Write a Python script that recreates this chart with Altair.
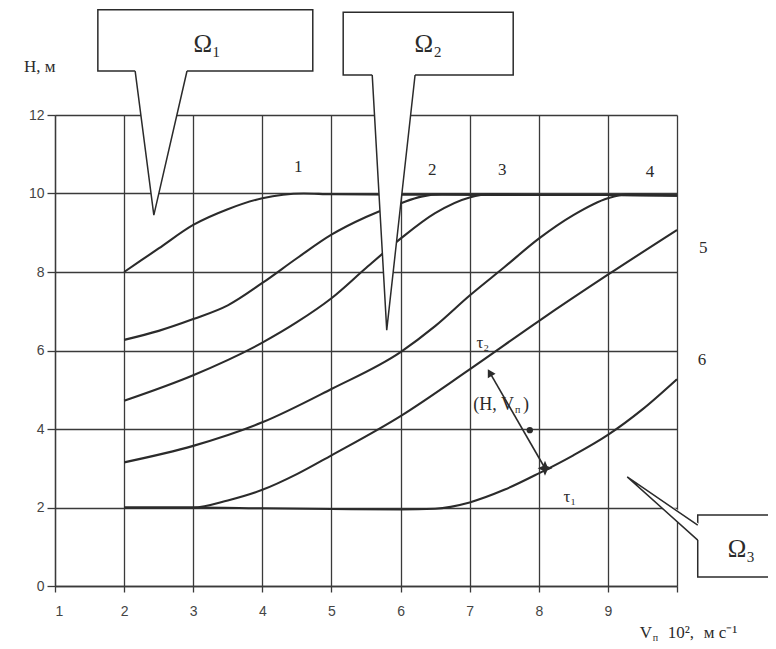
import altair as alt
import pandas as pd

# ---- curve data (V in 10^2 m/s, H in m) ----
V1 = [2, 2.5, 3, 3.5, 4, 4.3, 4.6, 5, 6, 7, 8, 9, 10]
H1 = [8.0, 8.6, 9.2, 9.6, 9.88, 9.97, 10.0, 9.98, 9.97, 9.97, 9.96, 9.96, 9.95]
V2 = [2, 2.5, 3, 3.5, 4, 4.5, 5, 5.5, 6, 6.3, 6.6, 7, 8, 9, 10]
H2 = [6.27, 6.5, 6.8, 7.15, 7.72, 8.35, 8.95, 9.4, 9.75, 9.92, 9.98, 9.97, 9.96, 9.96, 9.95]
V3 = [2, 3, 4, 4.5, 5, 5.5, 6, 6.5, 7, 7.3, 8, 9, 10]
H3 = [4.72, 5.37, 6.2, 6.72, 7.33, 8.1, 8.85, 9.5, 9.9, 9.98, 9.96, 9.96, 9.95]
V4 = [2, 3, 4, 5, 6, 6.5, 7, 7.5, 8, 8.5, 9, 9.3, 10]
H4 = [3.15, 3.57, 4.17, 5.02, 5.96, 6.62, 7.4, 8.12, 8.85, 9.45, 9.88, 9.98, 9.95]
V5 = [2, 3, 3.5, 4, 4.5, 5, 6, 7, 8, 9, 10]
H5 = [2.0, 2.0, 2.18, 2.45, 2.85, 3.33, 4.33, 5.52, 6.75, 7.93, 9.07]
V6 = [2, 3, 4, 5, 6, 6.5, 7, 7.5, 8, 8.5, 9, 9.5, 10]
H6 = [2.0, 2.0, 1.98, 1.96, 1.95, 1.97, 2.13, 2.45, 2.87, 3.33, 3.85, 4.5, 5.27]

X_TICKS = [1, 2, 3, 4, 5, 6, 7, 8, 9, 10]
Y_TICKS = [0, 2, 4, 6, 8, 10, 12]

# curve labels
CURVE_LABELS = ["1", "2", "3", "4", "5", "6"]
CURVE_LABEL_V = [4.52, 6.46, 7.47, 9.61, 10.38, 10.36]
CURVE_LABEL_H = [10.68, 10.6, 10.6, 10.55, 8.6, 5.76]

# callouts
OMEGA_TEXT = ["Ω₁", "Ω₂", "Ω₃"]
OMEGA_TEXT_V = [3.2, 6.4, 10.93]
OMEGA_TEXT_H = [13.8, 13.8, 0.95]
BOX_V = [1.62, 5.17, 10.30]
BOX_V2 = [4.73, 7.63, 11.9]
BOX_H = [13.12, 13.02, 0.23]
BOX_H2 = [14.68, 14.62, 1.81]
# downward pointers for Ω1, Ω2: base-left, tip, base-right
PTR1_V = [2.16, 2.43, 2.91]
PTR1_H = [13.12, 9.45, 13.12]
PTR2_V = [5.59, 5.80, 6.21]
PTR2_H = [13.02, 6.52, 13.02]
# sideways pointer for Ω3: base-top, tip, base-bottom
PTR3_V = [10.30, 9.28, 10.30]
PTR3_H = [1.55, 2.78, 1.17]

# state point and arrow
STAR_V, STAR_H = 8.09, 3.0
HEAD_V, HEAD_H = 7.30, 5.41
DOT_V, DOT_H = 7.87, 3.97
TAU_TEXT = ["τ₂", "τ₁"]
TAU_V = [7.19, 8.45]
TAU_H = [6.19, 2.27]

INK = "#2b2b2b"
GRID = "#3a3a3a"
SERIF = "Liberation Serif"
SANS = "Liberation Sans"

# ---- tables ----
rows = []
for cid, (vs, hs) in enumerate([(V1, H1), (V2, H2), (V3, H3), (V4, H4), (V5, H5), (V6, H6)], start=1):
    for i, (v, h) in enumerate(zip(vs, hs)):
        rows.append({"curve": cid, "i": i, "V": v, "H": h})
curves_df = pd.DataFrame(rows)

XS = alt.Scale(domain=[1, 10], nice=False, zero=False)
YS = alt.Scale(domain=[0, 12], nice=False, zero=False)
XAX = alt.Axis(values=X_TICKS, labelExpr="datum.value == 10 ? '' : datum.label", title=None,
               grid=True, gridColor=GRID, gridWidth=1.3, gridOpacity=1,
               tickSize=6, tickColor=GRID, tickWidth=1.3, domainColor=GRID, domainWidth=1.3,
               labelFont=SANS, labelFontSize=14, labelColor="#444", labelPadding=12)
YAX = alt.Axis(values=Y_TICKS, title=None, grid=True, gridColor=GRID, gridWidth=1.3, gridOpacity=1,
               tickSize=8, tickColor=GRID, tickWidth=1.3, domainColor=GRID, domainWidth=1.3,
               labelFont=SANS, labelFontSize=14, labelColor="#444", labelPadding=3)


def X(f="V", **kw):
    return alt.X(f"{f}:Q", scale=XS, axis=XAX, **kw)


def Y(f="H", **kw):
    return alt.Y(f"{f}:Q", scale=YS, axis=YAX, **kw)


curves = alt.Chart(curves_df).mark_line(color=INK, strokeWidth=2.1, interpolate="monotone").encode(
    x=X(), y=Y(), detail="curve:N", order="i:Q")

boxes_df = pd.DataFrame({"V": BOX_V, "V2": BOX_V2, "H": BOX_H, "H2": BOX_H2})
boxes = alt.Chart(boxes_df).mark_rect(fill="white", stroke=INK, strokeWidth=1.5).encode(
    x=X(), x2="V2:Q", y=Y(), y2="H2:Q")


def down_fill(vs, hs):
    df = pd.DataFrame({"V": vs, "H": hs, "Htop": [hs[0] + 0.1] * len(vs)})
    return alt.Chart(df).mark_area(fill="white", fillOpacity=1, interpolate="linear").encode(
        x=X(), y=Y(stack=None), y2="Htop:Q")


ptr1_fill = down_fill(PTR1_V, PTR1_H)
ptr2_fill = down_fill(PTR2_V, PTR2_H)

# white fill of the sideways pointer of Ω3
v_mid = PTR3_V[1] + (PTR3_V[2] - PTR3_V[1]) * (PTR3_H[1] - PTR3_H[0]) / (PTR3_H[1] - PTR3_H[2])
p3 = pd.DataFrame({
    "H": [PTR3_H[2], PTR3_H[0], PTR3_H[1]],
    "V": [PTR3_V[2], v_mid, PTR3_V[1]],
    "V2": [PTR3_V[0] + 0.05, PTR3_V[0] + 0.05, PTR3_V[1]],
})
ptr3_fill = alt.Chart(p3).mark_area(fill="white", fillOpacity=1, orient="horizontal", interpolate="linear").encode(
    y=Y(), x=X(stack=None), x2="V2:Q")

edge_rows = []
for pid, (vs, hs) in enumerate([(PTR1_V, PTR1_H), (PTR2_V, PTR2_H), (PTR3_V, PTR3_H)]):
    for i, (v, h) in enumerate(zip(vs, hs)):
        edge_rows.append({"p": pid, "i": i, "V": v, "H": h})
edges = alt.Chart(pd.DataFrame(edge_rows)).mark_line(color=INK, strokeWidth=1.5).encode(
    x=X(), y=Y(), detail="p:N", order="i:Q")

omega = alt.Chart(pd.DataFrame({"t": OMEGA_TEXT, "V": OMEGA_TEXT_V, "H": OMEGA_TEXT_H})).mark_text(
    font=SERIF, fontSize=25, color=INK).encode(x=X(), y=Y(), text="t:N")

labels = alt.Chart(pd.DataFrame({"t": CURVE_LABELS, "V": CURVE_LABEL_V, "H": CURVE_LABEL_H})).mark_text(
    font=SERIF, fontSize=17, color=INK).encode(x=X(), y=Y(), text="t:N")

taus = alt.Chart(pd.DataFrame({"t": TAU_TEXT, "V": TAU_V, "H": TAU_H})).mark_text(
    font=SERIF, fontSize=17, color=INK).encode(x=X(), y=Y(), text="t:N")

arrow_df = pd.DataFrame({"i": [0, 1], "V": [STAR_V, HEAD_V], "H": [STAR_H, HEAD_H]})
arrow = alt.Chart(arrow_df).mark_line(color=INK, strokeWidth=1.6).encode(x=X(), y=Y(), order="i:Q")
head = alt.Chart(pd.DataFrame({"V": [HEAD_V], "H": [HEAD_H]})).mark_point(
    shape="triangle", filled=True, size=80, angle=330, color=INK, opacity=1).encode(x=X(), y=Y())
STAR_PATH = "M0,-1L0.3,-0.3L1,0L0.3,0.3L0,1L-0.3,0.3L-1,0L-0.3,-0.3Z"
star = alt.Chart(pd.DataFrame({"V": [STAR_V], "H": [STAR_H]})).mark_point(
    shape=STAR_PATH, filled=True, size=220, color=INK, opacity=1).encode(x=X(), y=Y())
dot = alt.Chart(pd.DataFrame({"V": [DOT_V], "H": [DOT_H]})).mark_point(
    shape="circle", filled=True, size=40, color=INK, opacity=1).encode(x=X(), y=Y())

# "(H, Vп)" label
pt_df = pd.DataFrame({"V": [7.64], "H": [4.61]})
pt_main = alt.Chart(pt_df).mark_text(font=SERIF, fontSize=18, color=INK, align="right").encode(
    x=X(), y=Y(), text=alt.value("(H, V"))
pt_sub = alt.Chart(pt_df).mark_text(font=SERIF, fontSize=10, color=INK, align="left", dx=1, dy=5).encode(
    x=X(), y=Y(), text=alt.value("п"))
pt_close = alt.Chart(pt_df).mark_text(font=SERIF, fontSize=18, color=INK, align="left", dx=9).encode(
    x=X(), y=Y(), text=alt.value(")"))

# axis titles
ytitle = alt.Chart(pd.DataFrame({"V": [0.78], "H": [13.22]})).mark_text(
    font=SERIF, fontSize=17, color=INK).encode(x=X(), y=Y(), text=alt.value("H, м"))
xt_df = pd.DataFrame({"V": [9.46], "H": [-1.2]})
xt_v = alt.Chart(xt_df).mark_text(font=SERIF, fontSize=17, color=INK, align="left").encode(
    x=X(), y=Y(), text=alt.value("V"))
xt_sub = alt.Chart(xt_df).mark_text(font=SERIF, fontSize=10, color=INK, align="left", dx=13, dy=5).encode(
    x=X(), y=Y(), text=alt.value("п"))
xt_10 = alt.Chart(xt_df).mark_text(font=SERIF, fontSize=17, color=INK, align="left", dx=28).encode(
    x=X(), y=Y(), text=alt.value("10²,"))
xt_unit = alt.Chart(xt_df).mark_text(font=SERIF, fontSize=17, color=INK, align="left", dx=64).encode(
    x=X(), y=Y(), text=alt.value("м с⁻¹"))

chart = alt.layer(
    curves, boxes, ptr1_fill, ptr2_fill, ptr3_fill, edges, omega, labels, taus,
    arrow, head, star, dot, pt_main, pt_sub, pt_close, ytitle, xt_v, xt_sub, xt_10, xt_unit
).properties(
    width=622, height=471,
    autosize=alt.AutoSizeParams(type="none"),
    padding={"left": 47, "top": 107, "right": 91, "bottom": 58},
    background="white",
).configure_view(strokeWidth=0, stroke=None)

chart.save("out.html", embed_options={"renderer": "svg", "actions": False})
